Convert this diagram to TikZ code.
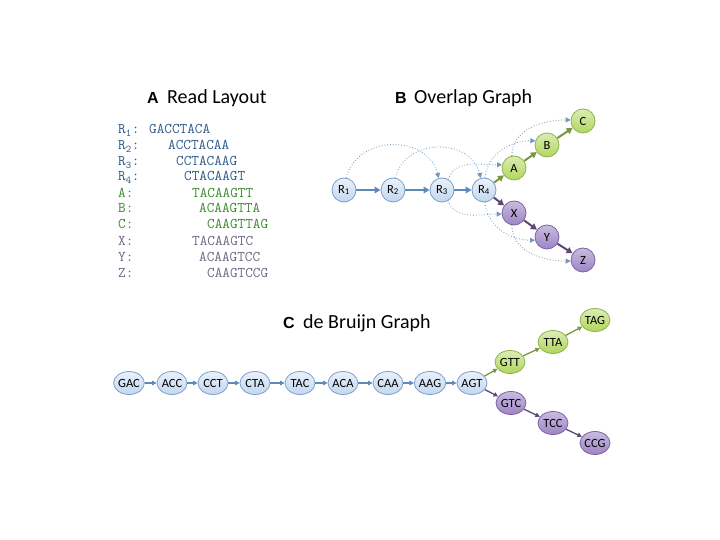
\documentclass[tikz,border=0pt]{standalone}
\usepackage{fontspec}
\setmainfont{Carlito}
\newfontfamily\headf{Liberation Sans}
\usetikzlibrary{arrows.meta,shapes.geometric}
\definecolor{bluefill}{HTML}{C2D7F0}
\definecolor{blueline}{HTML}{7E9FCB}
\definecolor{greenfill}{HTML}{B0D65C}
\definecolor{greenline}{HTML}{8FB34A}
\definecolor{purpfill}{HTML}{9D84C5}
\definecolor{purpline}{HTML}{7C64A4}
\definecolor{bluearrow}{HTML}{5F89B9}
\definecolor{greenarrow}{HTML}{7D963E}
\definecolor{purparrow}{HTML}{5D4878}
\definecolor{dotarrow}{HTML}{7595BA}
\definecolor{seqblue}{HTML}{2D5A8A}
\definecolor{seqgreen}{HTML}{3B8A2E}
\definecolor{seqpurp}{HTML}{706684}
\tikzset{
  ov/.style={circle, minimum size=24pt, inner sep=0pt, line width=0.8pt, font=\fontsize{12.5}{13}\selectfont},
  ovb/.style={ov, draw=blueline, top color=bluefill!35!white, bottom color=bluefill},
  ovg/.style={ov, draw=greenline, top color=greenfill!45!white, bottom color=greenfill},
  ovp/.style={ov, draw=purpline, top color=purpfill!55!white, bottom color=purpfill},
  db/.style={ellipse, minimum width=30pt, minimum height=23pt, inner sep=0pt, line width=0.8pt, font=\fontsize{12.5}{13}\selectfont},
  dbb/.style={db, draw=blueline, top color=bluefill!35!white, bottom color=bluefill},
  dbg/.style={db, draw=greenline, top color=greenfill!45!white, bottom color=greenfill},
  dbp/.style={db, draw=purpline, top color=purpfill!55!white, bottom color=purpfill},
  arr/.style={line width=2pt, -{Triangle[length=6pt,width=6.5pt]}},
  dbarr/.style={line width=1.3pt, -{Triangle[length=4.5pt,width=4.5pt]}},
  olarc/.style={dotted, line width=0.8pt, draw=dotarrow, -{Triangle[length=5pt,width=5pt,fill=dotarrow]}},
  ttl/.style={anchor=base west, inner sep=0pt, font=\fontsize{20}{22}\selectfont},
  ttlb/.style={anchor=base west, inner sep=0pt, font=\headf\bfseries\fontsize{16}{18}\selectfont},
  seq/.style={anchor=base west, inner sep=0pt, font=\ttfamily\fontsize{14.8}{16}\selectfont}
}
\begin{document}
\begin{tikzpicture}[x=1pt,y=-1pt]
\useasboundingbox[fill=white] (0,0) rectangle (720,540);
% titles
\node[ttlb] (tA) at (147,104) {A};
\node[ttl] (tAt) at (167,104) {Read Layout};
\node[ttlb] (tB) at (395,104) {B};
\node[ttl] (tBt) at (414,104) {Overlap Graph};
\node[ttlb] (tC) at (283,328) {C};
\node[ttl] (tCt) at (303,328) {de Bruijn Graph};
% read layout
\foreach \lab/\s/\x/\y/\c in {R\textsubscript{1}:/GACCTACA/149/134/seqblue,
  R\textsubscript{2}:/ACCTACAA/168/150/seqblue,
  R\textsubscript{3}:/CCTACAAG/176/166/seqblue,
  R\textsubscript{4}:/CTACAAGT/184/181/seqblue,
  A:/TACAAGTT/192/197/seqgreen,
  B:/ACAAGTTA/199/213/seqgreen,
  C:/CAAGTTAG/207/229/seqgreen,
  X:/TACAAGTC/192/245/seqpurp,
  Y:/ACAAGTCC/199/261/seqpurp,
  Z:/CAAGTCCG/207/277/seqpurp}{
  \node[seq, text=\c] (l\s) at (118,\y) {\lab};
  \node[seq, text=\c] (s\s) at (\x,\y) {\s};
}
% overlap graph
\node[ovb] (R1) at (344,190) {R\textsubscript{1}};
\node[ovb] (R2) at (393,190) {R\textsubscript{2}};
\node[ovb] (R3) at (442,190) {R\textsubscript{3}};
\node[ovb] (R4) at (484,190) {R\textsubscript{4}};
\node[ovg] (A) at (514,168) {A};
\node[ovg] (B) at (547,145) {B};
\node[ovg] (C) at (583,121) {C};
\node[ovp] (X) at (514,213) {X};
\node[ovp] (Y) at (547,237) {Y};
\node[ovp] (Z) at (583,260) {Z};
\draw[olarc] (R1.80) to[out=75,in=105,looseness=1.25] (R3.105);
\draw[olarc] (R2.80) to[out=75,in=105,looseness=1.25] (R4.105);
\draw[olarc] (R3.60) to[out=70,in=180] (A.165);
\draw[olarc] (R4.85) to[out=85,in=180] (B.160);
\draw[olarc] (A.100) to[out=90,in=180] (C.175);
\draw[olarc] (R3.-60) to[out=-70,in=180] (X.185);
\draw[olarc] (R4.-85) to[out=-85,in=180] (Y.195);
\draw[olarc] (X.-100) to[out=-90,in=180] (Z.185);
\draw[arr, bluearrow] (R1) -- (R2);
\draw[arr, bluearrow] (R2) -- (R3);
\draw[arr, bluearrow] (R3) -- (R4);
\draw[arr, greenarrow] (R4) -- (A);
\draw[arr, greenarrow] (A) -- (B);
\draw[arr, greenarrow] (B) -- (C);
\draw[arr, purparrow] (R4) -- (X);
\draw[arr, purparrow] (X) -- (Y);
\draw[arr, purparrow] (Y) -- (Z);
% de Bruijn graph
\foreach \n/\x in {GAC/129, ACC/172, CCT/213, CTA/255, TAC/300, ACA/343, CAA/388, AAG/430, AGT/472}{
  \node[dbb] (\n) at (\x,383) {\n};
}
\node[dbg] (GTT) at (510,362) {GTT};
\node[dbg] (TTA) at (553,342) {TTA};
\node[dbg] (TAG) at (595,320) {TAG};
\node[dbp] (GTC) at (511,403) {GTC};
\node[dbp] (TCC) at (553,423) {TCC};
\node[dbp] (CCG) at (595,443) {CCG};
\foreach \a/\b in {GAC/ACC, ACC/CCT, CCT/CTA, CTA/TAC, TAC/ACA, ACA/CAA, CAA/AAG, AAG/AGT}{
  \draw[dbarr, bluearrow] (\a) -- (\b);
}
\draw[dbarr, greenarrow] (AGT) -- (GTT);
\draw[dbarr, greenarrow] (GTT) -- (TTA);
\draw[dbarr, greenarrow] (TTA) -- (TAG);
\draw[dbarr, purparrow] (AGT) -- (GTC);
\draw[dbarr, purparrow] (GTC) -- (TCC);
\draw[dbarr, purparrow] (TCC) -- (CCG);
\end{tikzpicture}
\end{document}
